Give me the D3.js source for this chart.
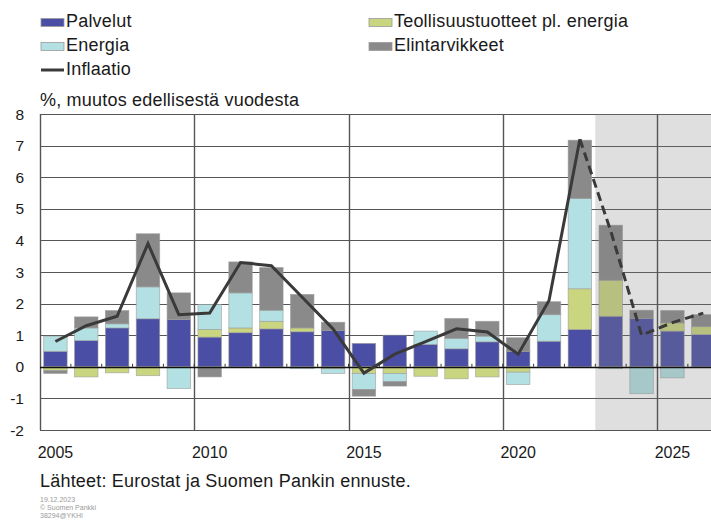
<!DOCTYPE html>
<html>
<head>
<meta charset="utf-8">
<style>
body { margin: 0; background: #fff; }
#chart text { font-family: "Liberation Sans", Arial, sans-serif; fill: #1a1a1a; }
.legend text, .big { font-size: 18px; letter-spacing: 0.2px; }
.ylab { font-size: 15.5px; }
.xlab { font-size: 16px; }
</style>
<script src="https://cdn.jsdelivr.net/npm/d3@7"></script>
</head>
<body>
<svg id="chart" width="711" height="521"></svg>
<script>

// data (% change from previous year)
var years = [2005, 2006, 2007, 2008, 2009, 2010, 2011, 2012, 2013, 2014, 2015,
             2016, 2017, 2018, 2019, 2020, 2021, 2022, 2023, 2024, 2025, 2026];
var palvelut = [0.49, 0.83, 1.23, 1.52, 1.50, 0.94, 1.08, 1.20, 1.11, 1.15, 0.74,
                1.00, 0.71, 0.57, 0.79, 0.49, 0.81, 1.18, 1.60, 1.53, 1.13, 1.02];
var teollisuus = [-0.12, -0.32, -0.19, -0.28, 0, 0.24, 0.15, 0.24, 0.12, -0.06, -0.21,
                  -0.21, -0.30, -0.38, -0.32, -0.17, 0, 1.29, 1.14, 0, 0.26, 0.25];
var energia = [0.48, 0.40, 0.13, 1.01, -0.69, 0.79, 1.11, 0.35, -0.06, -0.15, -0.51,
               -0.26, 0.42, 0.33, 0.18, -0.39, 0.84, 2.86, -0.06, -0.85, -0.35, 0];
var elintarvikkeet = [-0.09, 0.35, 0.42, 1.68, 0.84, -0.32, 0.98, 1.35, 1.06, 0.26, -0.21,
                      -0.14, 0, 0.63, 0.47, 0.43, 0.41, 1.84, 1.74, 0.26, 0.39, 0.38];
var inflaatio = [0.8, 1.3, 1.6, 3.9, 1.65, 1.7, 3.3, 3.2, 2.2, 1.2, -0.2,
                 0.4, 0.8, 1.2, 1.1, 0.4, 2.1, 7.2, 4.3, 1.0, 1.4, 1.7];
var firstForecast = 2023;
var xTicks = [2005, 2010, 2015, 2020, 2025];
var yTicks = [-2, -1, 0, 1, 2, 3, 4, 5, 6, 7, 8];

var keys = ["Palvelut", "Teollisuustuotteet pl. energia", "Energia", "Elintarvikkeet"];
var colors = {
  "Palvelut": "#4a4fa5",
  "Teollisuustuotteet pl. energia": "#cad67f",
  "Energia": "#b3e0e2",
  "Elintarvikkeet": "#8a8a8a"
};

var rows = years.map(function(y, i) {
  return {
    year: y,
    "Palvelut": palvelut[i],
    "Teollisuustuotteet pl. energia": teollisuus[i],
    "Energia": energia[i],
    "Elintarvikkeet": elintarvikkeet[i]
  };
});

var svg = d3.select("#chart");
var plotLeft = 40, plotTop = 114, plotBottom = 430, step = 30.85;
var plotRight = plotLeft + step * years.length;

var x = d3.scaleBand()
    .domain(years)
    .range([plotLeft, plotRight])
    .paddingInner(0.24)
    .paddingOuter(0.12);

var y = d3.scaleLinear()
    .domain([-2, 8])
    .range([plotBottom, plotTop]);

function edge(yr) { return x(yr) - (x.step() - x.bandwidth()) / 2; }
function mid(yr) { return x(yr) + x.bandwidth() / 2; }

// horizontal grid
svg.append("g")
  .selectAll("line")
  .data(yTicks)
  .enter().append("line")
    .attr("x1", plotLeft).attr("x2", plotRight)
    .attr("y1", function(d) { return Math.round(y(d)) + 0.5; })
    .attr("y2", function(d) { return Math.round(y(d)) + 0.5; })
    .attr("stroke", "#555")
    .attr("stroke-width", 1.2);

// stacked bars
var series = d3.stack().keys(keys).offset(d3.stackOffsetDiverging)(rows);

svg.append("g")
  .selectAll("g")
  .data(series)
  .enter().append("g")
    .attr("fill", function(d) { return colors[d.key]; })
  .selectAll("rect")
  .data(function(d) { return d; })
  .enter().append("rect")
    .attr("x", function(d) { return x(d.data.year); })
    .attr("width", x.bandwidth())
    .attr("y", function(d) { return y(Math.max(d[0], d[1])); })
    .attr("height", function(d) { return Math.abs(y(d[0]) - y(d[1])); })
    .attr("stroke", "#9a9a9a")
    .attr("stroke-width", 0.8)
    .attr("stroke-opacity", function(d) { return d[0] === d[1] ? 0 : 0.7; });

// forecast shading
svg.append("rect")
    .attr("x", edge(firstForecast))
    .attr("y", plotTop)
    .attr("width", plotRight - edge(firstForecast))
    .attr("height", plotBottom - plotTop)
    .attr("fill", "#808080")
    .attr("opacity", 0.25);

// vertical grid at every 5th year + left border
svg.append("g")
  .selectAll("line")
  .data(xTicks)
  .enter().append("line")
    .attr("x1", function(d) { return Math.round(edge(d)) + 0.5; })
    .attr("x2", function(d) { return Math.round(edge(d)) + 0.5; })
    .attr("y1", plotTop).attr("y2", plotBottom)
    .attr("stroke", "#555")
    .attr("stroke-width", 1.4);

// zero line with little ticks
svg.append("line")
    .attr("x1", plotLeft).attr("x2", plotRight)
    .attr("y1", Math.round(y(0)) + 0.5).attr("y2", Math.round(y(0)) + 0.5)
    .attr("stroke", "#111")
    .attr("stroke-width", 1.3);

svg.append("g")
  .selectAll("line")
  .data(years.slice(1))
  .enter().append("line")
    .attr("x1", function(d) { return edge(d); })
    .attr("x2", function(d) { return edge(d); })
    .attr("y1", y(0) - 3).attr("y2", y(0))
    .attr("stroke", "#333");

// inflation line, solid for history, dashed for forecast
var line = d3.line()
    .x(function(d) { return mid(d.year); })
    .y(function(d) { return y(d.v); });

var pts = years.map(function(yr, i) { return { year: yr, v: inflaatio[i] }; });
var hist = pts.filter(function(d) { return d.year < firstForecast; });
var fc = pts.filter(function(d) { return d.year >= firstForecast - 1; });

svg.append("path")
    .datum(hist)
    .attr("d", line)
    .attr("fill", "none")
    .attr("stroke", "#3a3a3a")
    .attr("stroke-width", 3);

svg.append("path")
    .datum(fc)
    .attr("d", line)
    .attr("fill", "none")
    .attr("stroke", "#3a3a3a")
    .attr("stroke-width", 3)
    .attr("stroke-dasharray", "9,5");

// axes labels
svg.append("g")
  .selectAll("text")
  .data(yTicks)
  .enter().append("text")
    .attr("class", "ylab")
    .attr("x", 24)
    .attr("y", function(d) { return y(d); })
    .attr("dy", "0.36em")
    .attr("text-anchor", "end")
    .text(function(d) { return d; });

svg.append("g")
  .selectAll("text")
  .data(xTicks)
  .enter().append("text")
    .attr("class", "xlab")
    .attr("x", function(d) { return mid(d); })
    .attr("y", 458)
    .attr("text-anchor", "middle")
    .text(function(d) { return d; });

svg.append("text")
    .attr("class", "big")
    .attr("x", 40)
    .attr("y", 106)
    .text("%, muutos edellisestä vuodesta");

// legend
var legendItems = [
  { name: "Palvelut", x: 41, y: 27 },
  { name: "Energia", x: 41, y: 51 },
  { name: "Inflaatio", x: 41, y: 75, line: true },
  { name: "Teollisuustuotteet pl. energia", x: 369, y: 27 },
  { name: "Elintarvikkeet", x: 369, y: 51 }
];

var legend = svg.selectAll(".legend")
  .data(legendItems)
  .enter().append("g")
    .attr("class", "legend")
    .attr("transform", function(d) { return "translate(" + d.x + "," + d.y + ")"; });

legend.filter(function(d) { return !d.line; })
  .append("rect")
    .attr("y", -8.5)
    .attr("width", 23)
    .attr("height", 8)
    .attr("fill", function(d) { return colors[d.name]; })
    .attr("stroke", "#999")
    .attr("stroke-width", 0.8);

legend.filter(function(d) { return d.line; })
  .append("line")
    .attr("x1", 0).attr("x2", 23)
    .attr("y1", -5).attr("y2", -5)
    .attr("stroke", "#3a3a3a")
    .attr("stroke-width", 3);

legend.append("text")
    .attr("x", 25)
    .text(function(d) { return d.name; });

// source and footer
svg.append("text")
    .attr("class", "big")
    .attr("x", 40)
    .attr("y", 487)
    .text("Lähteet: Eurostat ja Suomen Pankin ennuste.");

var foot = ["19.12.2023", "© Suomen Pankki", "38294@YKHI"];
svg.append("g")
  .selectAll("text")
  .data(foot)
  .enter().append("text")
    .attr("x", 40)
    .attr("y", function(d, i) { return 502 + i * 8; })
    .style("font-size", "7px")
    .style("fill", "#9a9a9a")
    .text(function(d) { return d; });

</script>
</body>
</html>
